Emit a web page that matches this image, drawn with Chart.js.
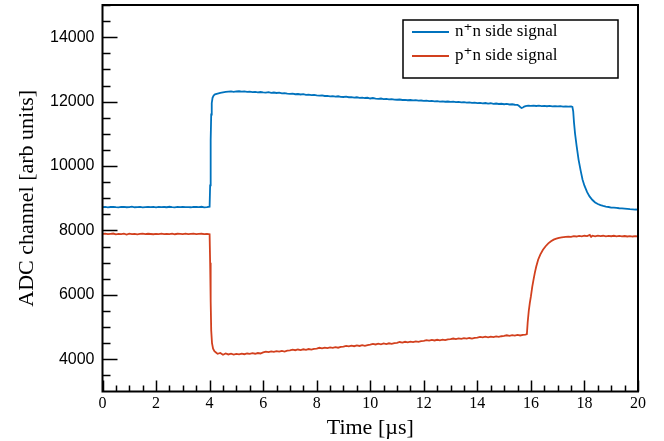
<!DOCTYPE html>
<html>
<head>
<meta charset="utf-8">
<script src="https://cdn.jsdelivr.net/npm/chart.js@4/dist/chart.umd.min.js"></script>
<style>
  body { margin: 0; background: #fff; }
</style>
</head>
<body>
<canvas id="adcChart" width="664" height="441"></canvas>
<script>
// n+n side signal (time in µs, ADC channel)
const nnTime = [
  0.0, 0.1, 0.2, 0.3, 0.4, 0.5, 0.6, 0.7, 0.8, 0.9,
  1.0, 1.1, 1.2, 1.3, 1.4, 1.5, 1.6, 1.7, 1.8, 1.9,
  2.0, 2.1, 2.2, 2.3, 2.4, 2.5, 2.6, 2.7, 2.8, 2.9,
  3.0, 3.1, 3.2, 3.3, 3.4, 3.5, 3.6, 3.7, 3.8, 3.9,
  4.0, 4.02, 4.04, 4.06, 4.08, 4.11, 4.15, 4.2, 4.3, 4.4,
  4.5, 4.6, 4.7, 4.8, 4.9, 5.0, 5.1, 5.2, 5.3, 5.4,
  5.5, 5.6, 5.7, 5.8, 5.9, 6.0, 6.1, 6.2, 6.3, 6.4,
  6.5, 6.6, 6.7, 6.8, 6.9, 7.0, 7.1, 7.2, 7.3, 7.4,
  7.5, 7.6, 7.7, 7.8, 7.9, 8.0, 8.1, 8.2, 8.3, 8.4,
  8.5, 8.6, 8.7, 8.8, 8.9, 9.0, 9.1, 9.2, 9.3, 9.4,
  9.5, 9.6, 9.7, 9.8, 9.9, 10.0, 10.1, 10.2, 10.3, 10.4,
  10.5, 10.6, 10.7, 10.8, 10.9, 11.0, 11.1, 11.2, 11.3, 11.4,
  11.5, 11.6, 11.7, 11.8, 11.9, 12.0, 12.1, 12.2, 12.3, 12.4,
  12.5, 12.6, 12.7, 12.8, 12.9, 13.0, 13.1, 13.2, 13.3, 13.4,
  13.5, 13.6, 13.7, 13.8, 13.9, 14.0, 14.1, 14.2, 14.3, 14.4,
  14.5, 14.6, 14.7, 14.8, 14.9, 15.0, 15.1, 15.2, 15.3, 15.4,
  15.5, 15.55, 15.6, 15.65, 15.7, 15.75, 15.8, 15.9, 16.0, 16.1,
  16.2, 16.3, 16.4, 16.5, 16.6, 16.7, 16.8, 16.9, 17.0, 17.1,
  17.2, 17.3, 17.4, 17.5, 17.55, 17.58, 17.61, 17.65, 17.71, 17.78,
  17.86, 17.93, 18.0, 18.1, 18.19, 18.3, 18.4, 18.5, 18.6, 18.7,
  18.8, 18.9, 19.0, 19.1, 19.2, 19.3, 19.4, 19.5, 19.6, 19.7,
  19.8, 19.9, 20.0
];
const nnAdc = [
  8722, 8731, 8719, 8728, 8735, 8724, 8716, 8729, 8733, 8721,
  8727, 8738, 8720, 8725, 8730, 8717, 8726, 8734, 8723, 8729,
  8719, 8732, 8725, 8728, 8721, 8736, 8724, 8718, 8730, 8727,
  8733, 8722, 8726, 8720, 8731, 8728, 8724, 8735, 8719, 8727,
  8740, 9400, 10800, 11600, 11950, 12120, 12190, 12225, 12250, 12275,
  12290, 12300, 12310, 12318, 12305, 12315, 12322, 12308, 12316, 12302,
  12311, 12296, 12305, 12290, 12298, 12286, 12280, 12292, 12274, 12283,
  12268, 12277, 12259, 12266, 12250, 12238, 12247, 12229, 12236, 12221,
  12230, 12212, 12219, 12203, 12211, 12192, 12186, 12194, 12175, 12181,
  12165, 12172, 12158, 12166, 12150, 12143, 12152, 12136, 12142, 12127,
  12135, 12119, 12126, 12112, 12120, 12097, 12112, 12094, 12088, 12096,
  12079, 12085, 12072, 12080, 12064, 12058, 12066, 12051, 12057, 12043,
  12050, 12036, 12044, 12029, 12035, 12022, 12030, 12016, 12023, 12009,
  12017, 12002, 12010, 11996, 12003, 11990, 11998, 11983, 11990, 11976,
  11984, 11969, 11977, 11962, 11970, 11956, 11963, 11948, 11957, 11941,
  11950, 11933, 11942, 11926, 11934, 11919, 11927, 11911, 11918, 11903,
  11896, 11870, 11832, 11805, 11818, 11845, 11862, 11874, 11868, 11877,
  11864, 11873, 11860, 11869, 11857, 11866, 11853, 11862, 11850, 11859,
  11846, 11855, 11843, 11850, 11835, 11700, 11350, 11000, 10612, 10200,
  9850, 9576, 9390, 9190, 9057, 8945, 8870, 8820, 8785, 8760,
  8742, 8728, 8712, 8706, 8699, 8690, 8684, 8677, 8669, 8662,
  8657, 8650, 8646
];

// p+n side signal
const pnTime = [
  0.0, 0.1, 0.2, 0.3, 0.4, 0.5, 0.6, 0.7, 0.8, 0.9,
  1.0, 1.1, 1.2, 1.3, 1.4, 1.5, 1.6, 1.7, 1.8, 1.9,
  2.0, 2.1, 2.2, 2.3, 2.4, 2.5, 2.6, 2.7, 2.8, 2.9,
  3.0, 3.1, 3.2, 3.3, 3.4, 3.5, 3.6, 3.7, 3.8, 3.9,
  4.0, 4.02, 4.04, 4.06, 4.09, 4.13, 4.18, 4.25, 4.3, 4.4,
  4.5, 4.6, 4.7, 4.8, 4.9, 5.0, 5.1, 5.2, 5.3, 5.4,
  5.5, 5.6, 5.7, 5.8, 5.9, 6.0, 6.1, 6.2, 6.3, 6.4,
  6.5, 6.6, 6.7, 6.8, 6.9, 7.0, 7.1, 7.2, 7.3, 7.4,
  7.5, 7.6, 7.7, 7.8, 7.9, 8.0, 8.1, 8.2, 8.3, 8.4,
  8.5, 8.6, 8.7, 8.8, 8.9, 9.0, 9.1, 9.2, 9.3, 9.4,
  9.5, 9.6, 9.7, 9.8, 9.9, 10.0, 10.1, 10.2, 10.3, 10.4,
  10.5, 10.6, 10.7, 10.8, 10.9, 11.0, 11.1, 11.2, 11.3, 11.4,
  11.5, 11.6, 11.7, 11.8, 11.9, 12.0, 12.1, 12.2, 12.3, 12.4,
  12.5, 12.6, 12.7, 12.8, 12.9, 13.0, 13.1, 13.2, 13.3, 13.4,
  13.5, 13.6, 13.7, 13.8, 13.9, 14.0, 14.1, 14.2, 14.3, 14.4,
  14.5, 14.6, 14.7, 14.8, 14.9, 15.0, 15.1, 15.2, 15.3, 15.4,
  15.5, 15.6, 15.7, 15.8, 15.85, 15.88, 15.92, 15.96, 16.0, 16.05,
  16.1, 16.15, 16.2, 16.27, 16.35, 16.45, 16.55, 16.65, 16.75, 16.85,
  16.95, 17.05, 17.15, 17.3, 17.4, 17.5, 17.6, 17.7, 17.8, 17.9,
  18.0, 18.1, 18.2, 18.25, 18.3, 18.4, 18.5, 18.6, 18.7, 18.8,
  18.9, 19.0, 19.1, 19.2, 19.3, 19.4, 19.5, 19.6, 19.7, 19.8,
  19.9, 20.0
];
const pnAdc = [
  7893, 7901, 7886, 7897, 7905, 7879, 7892, 7888, 7899, 7874,
  7902, 7885, 7896, 7881, 7893, 7904, 7887, 7898, 7890, 7883,
  7896, 7889, 7903, 7884, 7895, 7888, 7900, 7882, 7897, 7891,
  7886, 7899, 7884, 7894, 7902, 7887, 7893, 7898, 7885, 7892,
  7880, 7000, 5800, 4900, 4500, 4330, 4250, 4205, 4170, 4195,
  4140, 4180, 4150, 4172, 4145, 4168, 4152, 4175, 4158, 4180,
  4166, 4188, 4172, 4194, 4180, 4214, 4238, 4221, 4246, 4229,
  4252, 4236, 4258, 4241, 4266, 4274, 4297, 4281, 4304, 4288,
  4311, 4293, 4318, 4300, 4324, 4333, 4357, 4340, 4364, 4346,
  4371, 4353, 4377, 4359, 4383, 4393, 4418, 4399, 4424, 4406,
  4431, 4413, 4437, 4419, 4443, 4454, 4476, 4460, 4484, 4466,
  4491, 4472, 4497, 4479, 4503, 4513, 4537, 4520, 4544, 4526,
  4550, 4532, 4557, 4539, 4563, 4574, 4595, 4580, 4601, 4584,
  4606, 4590, 4611, 4594, 4616, 4624, 4645, 4629, 4651, 4634,
  4656, 4640, 4661, 4644, 4666, 4674, 4695, 4679, 4701, 4684,
  4706, 4690, 4711, 4694, 4716, 4724, 4745, 4729, 4751, 4734,
  4756, 4740, 4761, 4766, 4780, 5150, 5500, 5750, 5950, 6250,
  6480, 6700, 6880, 7090, 7250, 7400, 7510, 7600, 7665, 7715,
  7748, 7770, 7782, 7798, 7810, 7803, 7822, 7812, 7830, 7818,
  7836, 7824, 7860, 7800, 7838, 7820, 7840, 7824, 7836, 7819,
  7833, 7821, 7835, 7818, 7830, 7816, 7828, 7813, 7826, 7812,
  7824, 7815
];

const xTicks = [0, 2, 4, 6, 8, 10, 12, 14, 16, 18, 20];
const yTicks = [4000, 6000, 8000, 10000, 12000, 14000];
const seriesLabels = ["n\u207An side signal", "p\u207An side signal"];
const seriesColors = ["#0072BD", "#D2401E"];

const serif = "'Liberation Serif', 'DejaVu Serif', serif";
const sans = "'Liberation Sans', Arial, sans-serif";

function toPoints(ts, vs) {
    return ts.map((t, i) => ({ x: t, y: vs[i] }));
}

// inward ticks, frame and the boxed legend, ROOT style
const rootFrame = {
    id: "rootFrame",
    afterDatasetsDraw(chart) {
        const { ctx, chartArea: a, scales: { x, y } } = chart;
        ctx.save();
        ctx.strokeStyle = "#000";
        ctx.lineWidth = 1.5;
        ctx.beginPath();
        for (let v = 0; v <= 20.001; v += 0.5) {
            const px = Math.round(x.getPixelForValue(v)) + 0.5;
            const major = Math.abs(v / 2 - Math.round(v / 2)) < 1e-6;
            ctx.moveTo(px, a.bottom);
            ctx.lineTo(px, a.bottom - (major ? 11 : 6));
        }
        for (let v = 3500; v <= 15000; v += 500) {
            const py = Math.round(y.getPixelForValue(v)) + 0.5;
            const major = v % 2000 === 0;
            ctx.moveTo(a.left, py);
            ctx.lineTo(a.left + (major ? 15 : 8), py);
        }
        ctx.stroke();

        ctx.lineWidth = 2;
        ctx.strokeRect(a.left, a.top, a.right - a.left, a.bottom - a.top);

        // legend
        const bx = a.right - 235, by = a.top + 15, bw = 215, bh = 58;
        ctx.fillStyle = "#fff";
        ctx.fillRect(bx, by, bw, bh);
        ctx.lineWidth = 1.5;
        ctx.strokeRect(bx, by, bw, bh);
        ctx.font = "17px " + serif;
        ctx.textBaseline = "middle";
        ctx.textAlign = "left";
        seriesLabels.forEach((lab, i) => {
            const ly = by + 12 + i * 24;
            ctx.strokeStyle = seriesColors[i];
            ctx.lineWidth = 2;
            ctx.beginPath();
            ctx.moveTo(bx + 9, ly);
            ctx.lineTo(bx + 46, ly);
            ctx.stroke();
            ctx.fillStyle = "#000";
            ctx.fillText(lab, bx + 52, ly);
        });
        ctx.restore();
    }
};

new Chart(document.getElementById("adcChart"), {
    type: "scatter",
    data: {
        datasets: [
            {
                label: seriesLabels[0],
                data: toPoints(nnTime, nnAdc),
                showLine: true,
                borderColor: seriesColors[0],
                borderWidth: 1.8,
                pointRadius: 0,
                tension: 0
            },
            {
                label: seriesLabels[1],
                data: toPoints(pnTime, pnAdc),
                showLine: true,
                borderColor: seriesColors[1],
                borderWidth: 1.8,
                pointRadius: 0,
                tension: 0
            }
        ]
    },
    options: {
        responsive: false,
        animation: false,
        devicePixelRatio: 1,
        layout: { padding: { top: 5, right: 26, left: 0, bottom: 0 } },
        plugins: {
            legend: { display: false },
            tooltip: { enabled: false }
        },
        scales: {
            x: {
                type: "linear",
                min: 0,
                max: 20,
                afterBuildTicks: s => { s.ticks = xTicks.map(v => ({ value: v })); },
                afterFit: s => {
                    s.height = 49.5;
                    s.paddingLeft = 0;
                    s.paddingRight = 0;
                },
                grid: { display: false, drawTicks: false },
                border: { display: false },
                ticks: {
                    color: "#000",
                    font: { family: serif, size: 16 },
                    padding: 3,
                    maxRotation: 0,
                    autoSkip: false
                },
                title: {
                    display: true,
                    text: "Time [\u00B5s]",
                    color: "#000",
                    font: { family: serif, size: 22 },
                    padding: { top: 0, bottom: 0 }
                }
            },
            y: {
                type: "linear",
                min: 3000,
                max: 15000,
                afterBuildTicks: s => { s.ticks = yTicks.map(v => ({ value: v })); },
                afterFit: s => {
                    s.width = 102.5;
                    s.paddingTop = 0;
                    s.paddingBottom = 0;
                },
                grid: { display: false, drawTicks: false },
                border: { display: false },
                ticks: {
                    color: "#000",
                    font: { family: sans, size: 16 },
                    padding: 8,
                    autoSkip: false,
                    callback: v => String(v)
                },
                title: {
                    display: true,
                    text: "ADC channel [arb units]",
                    color: "#000",
                    font: { family: serif, size: 22 },
                    padding: { top: 14, bottom: 0 }
                }
            }
        }
    },
    plugins: [rootFrame]
});
</script>
</body>
</html>
